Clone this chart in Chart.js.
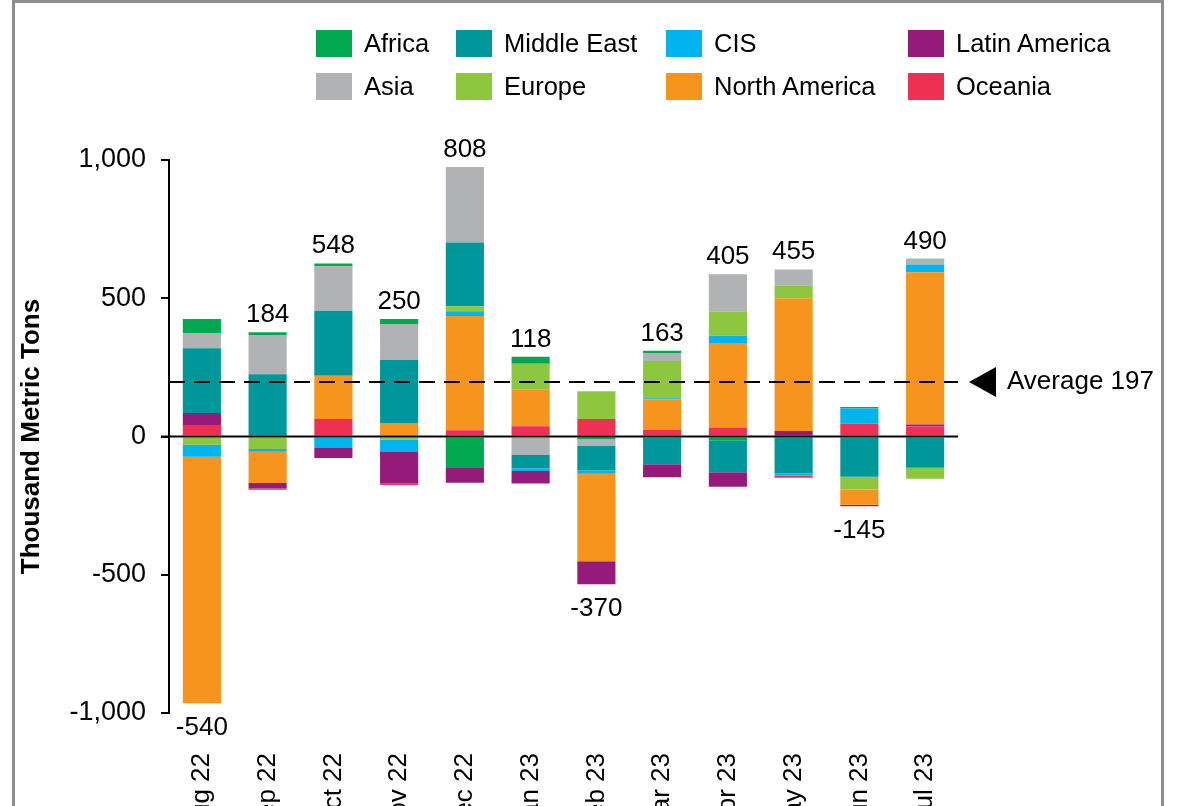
<!DOCTYPE html>
<html lang="en">
<head>
  <meta charset="UTF-8">
  <title>Monthly net flows by region</title>
  <script src="https://cdn.jsdelivr.net/npm/chart.js"></script>
  <style>
    body { margin: 0; background: #fff; overflow: hidden; font-family: "Liberation Sans", Arial, sans-serif; }
    .frame { position: absolute; left: 12px; top: 0; width: 1146px; height: 900px; border: 3px solid #8c8c8c; pointer-events: none; }
    .wrap { position: absolute; left: 0; top: 0; width: 1184px; height: 860px; }
    .item { position: absolute; display: flex; align-items: center; height: 27px; font-size: 25.5px; color: #000; white-space: nowrap; }
    .sw { width: 36px; height: 27px; margin-right: 12px; }
  </style>
</head>
<body>
  <div class="frame"></div>
  <div class="wrap"><canvas id="chart"></canvas></div>
  <div id="legend"></div>

  <script>
    const months = ['Aug 22', 'Sep 22', 'Oct 22', 'Nov 22', 'Dec 22', 'Jan 23', 'Feb 23', 'Mar 23', 'Apr 23', 'May 23', 'Jun 23', 'Jul 23'];

    // thousand metric tons
    const africa       = [51, 10, 10, 18, -114, 25, -10, 10, -15, 0, 6, 3];
    const asia         = [55, 142, 161, 130, 273, -67, -24, 27, 136, 59, 0, 18];
    const middleEast   = [234, 225, 235, 228, 231, -48, -89, -100, -114, -134, -146, -113];
    const europe       = [-30, -45, 0, -11, 18, 94, 101, 135, 87, 45, -46, -40];
    const cis          = [-43, -10, -42, -45, 17, -10, -12, 4, 29, -7, 54, 28];
    const northAmerica = [-892, -113, 157, 49, 413, 132, -316, 110, 302, 480, -55, 551];
    const latinAmerica = [43, -20, -36, -114, -53, -45, -83, -47, -53, 20, -5, 7];
    const oceania      = [42, -5, 63, -5, 23, 37, 63, 24, 33, -8, 47, 36];

    const average = 197;
    const yTicks = [-1000, -500, 0, 500, 1000];

    const regions = {
      'Africa':        { data: africa,       color: '#00a94f' },
      'Asia':          { data: asia,         color: '#b1b2b4' },
      'Middle East':   { data: middleEast,   color: '#00979a' },
      'Europe':        { data: europe,       color: '#8dc63f' },
      'CIS':           { data: cis,          color: '#00b5ef' },
      'North America': { data: northAmerica, color: '#f7941e' },
      'Latin America': { data: latinAmerica, color: '#961a7a' },
      'Oceania':       { data: oceania,      color: '#ee3054' }
    };

    // negatives stack down from zero in this order, positives stack up in the reverse
    const negOrder = ['Africa', 'Asia', 'Middle East', 'Europe', 'CIS', 'North America', 'Latin America', 'Oceania'];
    const posOrder = negOrder.slice().reverse();

    const datasets = [];
    negOrder.forEach(name => datasets.push({
      label: name, stack: 'net', backgroundColor: regions[name].color,
      data: regions[name].data.map(v => v < 0 ? v : null)
    }));
    posOrder.forEach(name => datasets.push({
      label: name, stack: 'net', backgroundColor: regions[name].color,
      data: regions[name].data.map(v => v > 0 ? v : null)
    }));

    // html legend, 4 columns x 2 rows
    const legendRows = [['Africa', 'Middle East', 'CIS', 'Latin America'], ['Asia', 'Europe', 'North America', 'Oceania']];
    const colX = [316, 456, 666, 908];
    const rowY = [30, 73];
    const legendEl = document.getElementById('legend');
    legendRows.forEach((row, r) => row.forEach((name, c) => {
      const el = document.createElement('div');
      el.className = 'item';
      el.style.left = colX[c] + 'px';
      el.style.top = rowY[r] + 'px';
      el.innerHTML = `<span class="sw" style="background:${regions[name].color}"></span>${name}`;
      legendEl.appendChild(el);
    }));

    const font = '"Liberation Sans", Arial, sans-serif';

    const overlay = {
      id: 'overlay',
      afterDatasetsDraw(chart) {
        const { ctx, chartArea, scales: { x, y } } = chart;
        ctx.save();
        ctx.strokeStyle = '#000';
        ctx.lineWidth = 2;

        const y0 = y.getPixelForValue(0);
        ctx.beginPath();
        ctx.moveTo(chartArea.left - 8, y0);
        ctx.lineTo(chartArea.right, y0);
        ctx.stroke();

        const ya = y.getPixelForValue(average);
        ctx.setLineDash([16, 9]);
        ctx.beginPath();
        ctx.moveTo(chartArea.left, ya);
        ctx.lineTo(chartArea.right, ya);
        ctx.stroke();
        ctx.setLineDash([]);

        ctx.fillStyle = '#000';
        ctx.beginPath();
        ctx.moveTo(chartArea.right + 11, ya);
        ctx.lineTo(chartArea.right + 38, ya - 15);
        ctx.lineTo(chartArea.right + 38, ya + 15);
        ctx.closePath();
        ctx.fill();

        ctx.font = '26px ' + font;
        ctx.textBaseline = 'middle';
        ctx.textAlign = 'left';
        ctx.fillText('Average ' + average, chartArea.right + 49, ya);

        // net total per month
        ctx.textAlign = 'center';
        ctx.textBaseline = 'alphabetic';
        months.forEach((m, i) => {
          let pos = 0, neg = 0;
          Object.values(regions).forEach(r => {
            const v = r.data[i];
            if (v > 0) pos += v; else neg += v;
          });
          const net = pos + neg;
          const px = x.getPixelForValue(i);
          if (net >= 0) {
            ctx.fillText(net, px, y.getPixelForValue(pos) - 10);
          } else {
            ctx.fillText(net, px, y.getPixelForValue(neg) + 32);
          }
        });
        ctx.restore();
      }
    };

    new Chart(document.getElementById('chart'), {
      type: 'bar',
      data: { labels: months, datasets },
      options: {
        responsive: true,
        maintainAspectRatio: false,
        animation: false,
        layout: { padding: { top: 160, right: 226, left: 0, bottom: 0 } },
        datasets: { bar: { categoryPercentage: 1, barPercentage: 0.58 } },
        plugins: { legend: { display: false }, tooltip: { enabled: false } },
        scales: {
          x: {
            stacked: true,
            grid: { display: false, drawTicks: false },
            border: { display: false },
            ticks: { color: '#000', font: { family: font, size: 26 }, minRotation: 90, maxRotation: 90, padding: 40 },
            afterFit: s => { s.height = 860 - 713; }
          },
          y: {
            stacked: true,
            min: -1000,
            max: 1000,
            afterFit: s => { s.width = 169; },
            afterBuildTicks: s => { s.ticks = yTicks.map(v => ({ value: v })); },
            grid: { color: 'rgba(0,0,0,0)', tickColor: '#000', lineWidth: 2, tickLength: 8 },
            border: { display: true, color: '#000', width: 2 },
            ticks: {
              color: '#000', padding: 15,
              font: { family: font, size: 27 },
              callback: v => v.toLocaleString('en-US')
            },
            title: {
              display: true, text: 'Thousand Metric Tons', color: '#000',
              font: { family: font, size: 26, weight: 'bold' },
              padding: { top: 16, bottom: 0 }
            }
          }
        }
      },
      plugins: [overlay]
    });
  </script>
</body>
</html>
